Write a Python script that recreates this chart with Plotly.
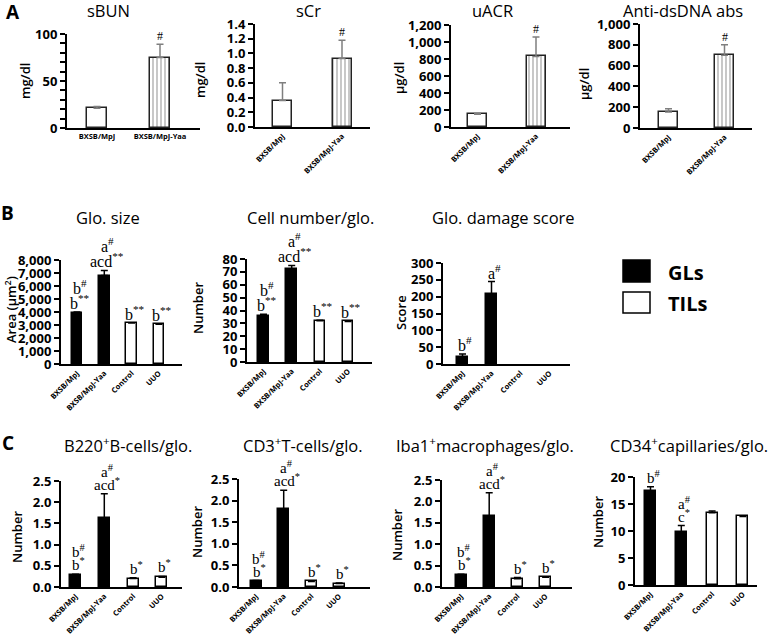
import plotly.graph_objects as go

W, H = 779, 642

# ---------------- data ----------------
groups2 = ["BXSB/MpJ", "BXSB/MpJ-Yaa"]
groups4 = ["BXSB/MpJ", "BXSB/MpJ-Yaa", "Control", "UUO"]

sbun_mean = [21, 75]
sbun_err = [2, 14]
scr_mean = [0.36, 0.93]
scr_err = [0.24, 0.25]
uacr_mean = [150, 830]
uacr_err = [10, 230]
dsdna_mean = [155, 700]
dsdna_err = [30, 100]

glo_size_mean = [3900, 6800, 3150, 3050]
glo_size_err = [100, 400, 30, 30]
cell_num_mean = [36, 72, 32, 31.5]
cell_num_err = [1, 3, 0.5, 0.5]
damage_mean = [20, 208, None, None]
damage_err = [10, 37, 0, 0]

b220_mean = [0.28, 1.63, 0.20, 0.23]
b220_err = [0.02, 0.57, 0.02, 0.02]
cd3_mean = [0.13, 1.80, 0.13, 0.08]
cd3_err = [0.02, 0.44, 0.01, 0.01]
iba1_mean = [0.27, 1.65, 0.19, 0.23]
iba1_err = [0.03, 0.55, 0.03, 0.01]
cd34_mean = [17.4, 9.8, 13.4, 12.7]
cd34_err = [0.8, 1.2, 0.3, 0.1]

# significance labels (listed bottom line first)
lab_A = [[], ["#"]]
lab_B = [["b<sup>**</sup>", "b<sup>#</sup>"], ["acd<sup>**</sup>", "a<sup>#</sup>"],
         ["b<sup>**</sup>"], ["b<sup>**</sup>"]]
lab_dmg = [["b<sup>#</sup>"], ["a<sup>#</sup>"], [], []]
lab_C = [["b<sup>*</sup>", "b<sup>#</sup>"], ["acd<sup>*</sup>", "a<sup>#</sup>"],
         ["b<sup>*</sup>"], ["b<sup>*</sup>"]]
lab_cd34 = [["b<sup>#</sup>"], ["c<sup>*</sup>", "a<sup>#</sup>"], [], []]

# ---------------- layout specs (pixels) ----------------
panels = [
    dict(title="sBUN", tx=108, ty=11, yt="mg/dl", ytx=25, yty=81, box=(67, 200, 34, 128), c0=97, s=63, bw=20,
         cats=groups2, m=sbun_mean, e=sbun_err, yr=[0, 100], dt=50, fmt="d", kind="A", lab=lab_A, tang=0, minor=10),
    dict(title="sCr", tx=308, ty=11, yt="mg/dl", ytx=200, yty=80, box=(255, 370, 24, 127), c0=282.5, s=59.5, bw=19,
         cats=groups2, m=scr_mean, e=scr_err, yr=[0, 1.4], dt=0.2, fmt=".1f", kind="A", lab=lab_A, tang=-45),
    dict(title="uACR", tx=492, ty=11, yt="µg/dl", ytx=399, yty=78, box=(451, 570, 25, 127), c0=477.5, s=58.5, bw=19,
         cats=groups2, m=uacr_mean, e=uacr_err, yr=[0, 1200], dt=200, fmt=",d", kind="A", lab=lab_A, tang=-45),
    dict(title="Anti-dsDNA abs", tx=683, ty=11, yt="µg/dl", ytx=584, yty=84, box=(640, 752, 24, 128), c0=668.5, s=56, bw=19,
         cats=groups2, m=dsdna_mean, e=dsdna_err, yr=[0, 1000], dt=200, fmt=",d", kind="A", lab=lab_A, tang=-45),
    dict(title="Glo. size", tx=108, ty=218, yt="Area (µm<sup>2</sup>)", ytx=11, yty=310, box=(61, 182, 260, 364), c0=77, s=27.3, bw=10.5,
         cats=groups4, m=glo_size_mean, e=glo_size_err, yr=[0, 8000], dt=1000, fmt=",d", kind="B", lab=lab_B, tang=-45),
    dict(title="Cell number/glo.", tx=310, ty=218, yt="Number", ytx=198, yty=308, box=(247, 372, 259, 362), c0=263.5, s=28.2, bw=10.5,
         cats=groups4, m=cell_num_mean, e=cell_num_err, yr=[0, 80], dt=10, fmt="d", kind="B", lab=lab_B, tang=-45),
    dict(title="Glo. damage score", tx=503, ty=218, yt="Score", ytx=401, yty=313, box=(443, 570, 263, 364), c0=462.5, s=29, bw=10.5,
         cats=groups4, m=damage_mean, e=damage_err, yr=[0, 300], dt=50, fmt="d", kind="B", lab=lab_dmg, tang=-45),
    dict(title="B220<sup>+</sup>B-cells/glo.", tx=128, ty=445, yt="Number", ytx=17, yty=537, box=(61, 182, 481, 587), c0=75.5, s=28.8, bw=11,
         cats=groups4, m=b220_mean, e=b220_err, yr=[0, 2.5], dt=0.5, fmt=".1f", kind="C", lab=lab_C, tang=-45),
    dict(title="CD3<sup>+</sup>T-cells/glo.", tx=303, ty=445, yt="Number", ytx=197, yty=532, box=(239, 370, 479, 587), c0=256, s=27.7, bw=11,
         cats=groups4, m=cd3_mean, e=cd3_err, yr=[0, 2.5], dt=0.5, fmt=".1f", kind="C", lab=lab_C, tang=-45),
    dict(title="Iba1<sup>+</sup>macrophages/glo.", tx=485, ty=445, yt="Number", ytx=397, yty=535, box=(442, 572, 480, 587), c0=461, s=28.2, bw=11,
         cats=groups4, m=iba1_mean, e=iba1_err, yr=[0, 2.5], dt=0.5, fmt=".1f", kind="C", lab=lab_C, tang=-45),
    dict(title="CD34<sup>+</sup>capillaries/glo.", tx=689, ty=445, yt="Number", ytx=598, yty=522, box=(635, 757, 477, 585), c0=650.5, s=30.8, bw=11,
         cats=groups4, m=cd34_mean, e=cd34_err, yr=[0, 20], dt=5, fmt="d", kind="C", lab=lab_cd34, tang=-45),
]

SANS = "Open Sans"
SERIF = "Liberation Serif"

def px(x):
    return x / W

def py(y):
    return 1 - y / H

fig = go.Figure()
layout = {}
annotations = []

for i, p in enumerate(panels, start=1):
    xn = "x" if i == 1 else f"x{i}"
    yn = "y" if i == 1 else f"y{i}"
    xk = "xaxis" if i == 1 else f"xaxis{i}"
    yk = "yaxis" if i == 1 else f"yaxis{i}"
    l, r, t, b = p["box"]
    s = p["s"]
    n = len(p["cats"])

    if p["kind"] == "A":
        colors = ["white"] * n
        shapes = [""] + ["|"] * (n - 1)
        ecol = "#7f7f7f"
        lcol = "#222222"
    else:
        colors = ["black", "black", "white", "white"]
        shapes = [""] * n
        ecol = "black"
        lcol = "black"

    fig.add_trace(go.Bar(
        x=p["cats"], y=p["m"], xaxis=xn, yaxis=yn,
        width=p["bw"] / s,
        marker=dict(color=colors, line=dict(color=lcol, width=1.5),
                    pattern=dict(shape=shapes, fgcolor="#8a8a8a", bgcolor="white",
                                 size=4, solidity=0.3)),
        error_y=dict(type="data", array=p["e"], arrayminus=[0] * n, symmetric=False,
                     color=ecol, thickness=1.5, width=3.5),
        showlegend=False, hoverinfo="skip",
    ))

    layout[xk] = dict(
        domain=[px(l), px(r)], anchor=yn, type="category", automargin=False,
        range=[(l - p["c0"]) / s, (r - p["c0"]) / s],
        showline=True, linecolor="black", linewidth=2, ticks="",
        tickangle=p["tang"], showgrid=False, zeroline=False,
        tickfont=dict(family=SANS, size=7.5, color="black", weight=700),
    )
    yax = dict(
        domain=[py(b), py(t)], anchor=xn, range=p["yr"], dtick=p["dt"], tick0=0, automargin=False,
        tickformat=p["fmt"], showline=True, linecolor="black", linewidth=2,
        ticks="outside", ticklen=5, tickwidth=1.5, tickcolor="black",
        showgrid=False, zeroline=False,
        tickfont=dict(family=SANS, size=13, color="black", weight=700),
    )
    if p.get("minor"):
        yax["minor"] = dict(dtick=p["minor"], ticks="outside", ticklen=5, tickwidth=1.5, tickcolor="black")
    layout[yk] = yax

    annotations.append(dict(x=px(p["tx"]), y=py(p["ty"]), xref="paper", yref="paper",
                            text=p["title"], showarrow=False, xanchor="center", yanchor="middle",
                            font=dict(family=SANS, size=16.5, color="black")))
    annotations.append(dict(x=px(p["ytx"]), y=py(p["yty"]), xref="paper", yref="paper",
                            text=p["yt"], showarrow=False, textangle=-90, xanchor="center", yanchor="middle",
                            font=dict(family=SANS, size=13, color="black", weight=600)))

    if p["kind"] == "A":
        fsize, first, step = 12, 8, 12
    elif p["kind"] == "B":
        fsize, first, step = 16, 10, 15
    else:
        fsize, first, step = 15, 10, 13
    for cat, m, e, labs in zip(p["cats"], p["m"], p["e"], p["lab"]):
        if m is None:
            continue
        top = m + e
        for k, txt in enumerate(labs):
            annotations.append(dict(x=cat, y=top, xref=xn, yref=yn, text=txt, showarrow=False,
                                    xanchor="center", yanchor="middle",
                                    xshift=(3 if "<sup>" in txt else 0),
                                    yshift=first + k * step,
                                    font=dict(family=SERIF, size=fsize, color="black")))

for letter, (lx, ly) in {"A": (13, 12), "B": (8, 213), "C": (8, 443)}.items():
    annotations.append(dict(x=px(lx), y=py(ly), xref="paper", yref="paper", text=f"<b>{letter}</b>",
                            showarrow=False, xanchor="center", yanchor="middle",
                            font=dict(family=SANS, size=19, color="black")))

shapes = [
    dict(type="rect", xref="paper", yref="paper", x0=px(623), x1=px(650), y0=py(282), y1=py(260),
         fillcolor="black", line=dict(color="black", width=1.5)),
    dict(type="rect", xref="paper", yref="paper", x0=px(623), x1=px(650), y0=py(313), y1=py(292),
         fillcolor="white", line=dict(color="black", width=1.5)),
]
for txt, ly in (("GLs", 272), ("TILs", 303)):
    annotations.append(dict(x=px(666), y=py(ly), xref="paper", yref="paper", text=f"<b>{txt}</b>",
                            showarrow=False, xanchor="left", yanchor="middle",
                            font=dict(family=SANS, size=20, color="black")))

fig.update_layout(
    width=W, height=H, margin=dict(l=0, r=0, t=0, b=0, autoexpand=False),
    paper_bgcolor="white", plot_bgcolor="white",
    annotations=annotations, shapes=shapes, bargap=0, showlegend=False,
    **layout,
)

fig.write_html("out.html", config={"displayModeBar": False},
               post_script="document.body.style.margin='0px';document.body.style.overflow='hidden';")
